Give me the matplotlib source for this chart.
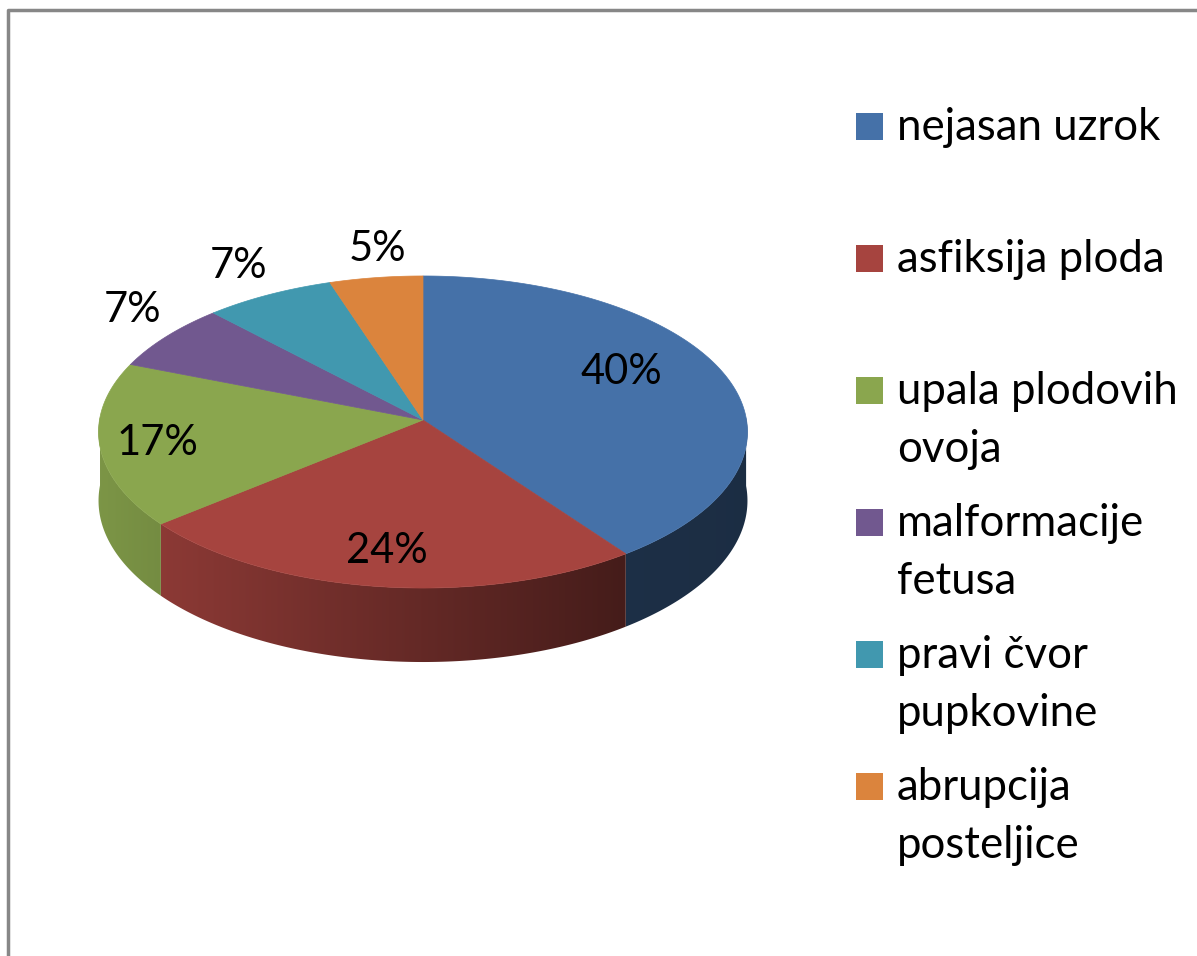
import numpy as np
import matplotlib
matplotlib.use("Agg")
import matplotlib.pyplot as plt
from matplotlib.patches import Polygon, Rectangle

# data
labels = ["nejasan uzrok", "asfiksija ploda", "upala plodovih\novoja",
          "malformacije\nfetusa", "pravi čvor\npupkovine", "abrupcija\nposteljice"]
values = [40, 24, 17, 7, 7, 5]
colors = ["#4571A8", "#A6443F", "#8AA64E", "#71588F", "#4198AF", "#DB843D"]

# label text positions (pixel coords, baseline)
label_xy = [(621, 384), (387, 563), (157, 455), (133, 322), (239, 278), (377, 261)]

W, H = 1197, 956
fig = plt.figure(figsize=(W / 100, H / 100), dpi=100)
ax = fig.add_axes([0, 0, 1, 1])

FONT = "Lato"
FS = 31.5
FS_PCT = 30

# chart border
ax.plot([8, 8, W + 5], [H + 5, 10, 10], color="#878787", lw=2.5, solid_capstyle="butt")

# pie geometry (pixels) - simple perspective projection of a tilted disc
px, py = 423, 420      # projected centre (apex of wedges)
kx, ky = 323.5, 155.1  # horizontal / vertical scale
persp = 13.0           # camera distance in radii
depth = 68.3


def pt(t):
    X, Y = np.cos(t), np.sin(t)
    s = 1.0 / (1 + Y / persp)
    return px + kx * X * s, py - ky * Y * s, s


total = sum(values)
start = np.pi / 2
bounds = []
for v in values:
    end = start - 2 * np.pi * v / total
    bounds.append((start, end))
    start = end

# side walls (front half only), shaded darker to the right
gx = np.linspace(90, 770, 400)
gf = np.interp(gx, [98, 620, 770], [0.9, 0.42, 0.40])
for (t0, t1), col in zip(bounds, colors):
    lo, hi = min(t0, t1), max(t0, t1)
    ts = np.linspace(lo, hi, 400)
    ts = ts[np.sin(ts) < 0.02]
    if len(ts) < 2:
        continue
    xs, ys, ss = pt(ts)
    verts = list(zip(xs, ys)) + list(zip(xs[::-1], (ys + depth * ss)[::-1]))
    poly = Polygon(verts, closed=True, facecolor="none", edgecolor="none")
    ax.add_patch(poly)
    rgb = np.array(matplotlib.colors.to_rgb(col))
    img = (gf[:, None] * rgb[None, :])[None, :, :]
    im = ax.imshow(img, extent=(90, 770, 700, 380), aspect="auto",
                   interpolation="bilinear", zorder=1)
    im.set_clip_path(poly)

# top faces
for (t0, t1), col in zip(bounds, colors):
    ts = np.linspace(t0, t1, 200)
    xs, ys, _ = pt(ts)
    verts = [(px, py)] + list(zip(xs, ys))
    ax.add_patch(Polygon(verts, closed=True, facecolor=col, edgecolor=col, lw=0.5, zorder=2))

# percentage labels
for v, (x, y) in zip(values, label_xy):
    ax.text(x, y, f"{round(100 * v / total)}%", ha="center", va="baseline",
            fontsize=FS_PCT, family=FONT, color="black", zorder=3)

# legend
for i, (lab, col) in enumerate(zip(labels, colors)):
    yc = 126 + 132 * i
    ax.add_patch(Rectangle((856, yc - 13.5), 27, 27, facecolor=col, edgecolor="none"))
    for j, line in enumerate(lab.split("\n")):
        ax.text(897, yc + 14 + 58 * j, line, ha="left", va="baseline",
                fontsize=FS, family=FONT, color="black")

ax.set_xlim(0, W)
ax.set_ylim(H, 0)
ax.axis("off")

fig.savefig("out.png", dpi=100)
